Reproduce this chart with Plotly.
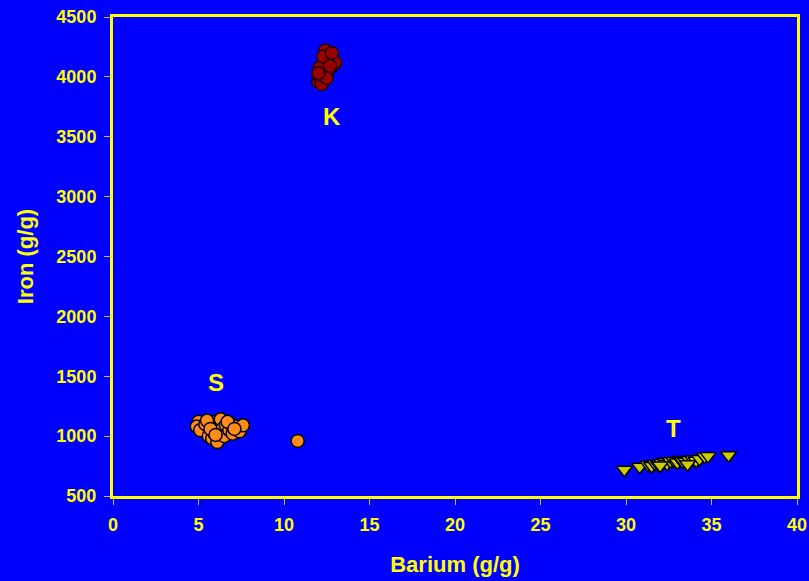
import plotly.graph_objects as go

# Barium vs iron concentrations for three sample groups
k_barium = [12.0, 12.1, 12.2, 12.3, 12.4, 12.5, 12.6, 12.4, 12.7, 12.8, 12.9, 13.0,
            12.6, 12.2, 12.1, 12.5, 12.3, 12.7, 12.0, 12.8]
k_iron = [3960, 4000, 3940, 4050, 4100, 4150, 4200, 4220, 4180, 4130, 4100, 4120,
          4060, 4020, 4080, 3990, 4170, 4090, 4030, 4200]

s_barium = [5.0, 4.9, 5.1, 5.4, 5.6, 5.8, 5.9, 6.0, 6.1, 6.2, 6.3, 6.4, 6.5, 6.6,
            6.8, 6.9, 7.0, 7.2, 7.4, 7.6, 5.5, 5.7, 6.7, 7.1, 6.0, 10.8]
s_iron = [1120, 1080, 1050, 1100, 1000, 980, 1030, 1120, 950, 1070, 1140, 1060,
          1000, 1090, 1050, 1100, 1020, 1080, 1040, 1090, 1130, 1060, 1120, 1060,
          1010, 960]

t_barium = [29.9, 30.8, 31.3, 31.5, 31.7, 31.9, 32.1, 32.3, 32.4, 32.6, 32.8, 33.0,
            33.2, 33.3, 33.5, 33.7, 33.9, 34.1, 34.3, 34.6, 34.8, 36.0, 32.0, 33.6]
t_iron = [720, 745, 760, 750, 770, 760, 775, 785, 770, 790, 795, 780, 800, 790,
          785, 800, 805, 795, 810, 830, 835, 840, 755, 765]

group_labels = ["K", "S", "T"]
label_x = [12.8, 6.0, 32.8]
label_y = [3665, 1444, 1060]

x_ticks = [0, 5, 10, 15, 20, 25, 30, 35, 40]
y_ticks = [500, 1000, 1500, 2000, 2500, 3000, 3500, 4000, 4500]

yellow = "#FFFF00"
font_family = "Liberation Sans, Arial, sans-serif"

fig = go.Figure()
fig.add_trace(go.Scatter(
    x=k_barium, y=k_iron, mode="markers", name="K",
    marker=dict(symbol="circle", size=13, color="#990000",
                line=dict(color="#220000", width=1.5))))
fig.add_trace(go.Scatter(
    x=s_barium, y=s_iron, mode="markers", name="S",
    marker=dict(symbol="circle", size=13, color="#FF8C1A",
                line=dict(color="#000000", width=1.5))))
fig.add_trace(go.Scatter(
    x=t_barium, y=t_iron, mode="markers", name="T",
    marker=dict(symbol="triangle-down", size=14, color="#CCCC00",
                line=dict(color="#000000", width=1.5))))

for name, lx, ly in zip(group_labels, label_x, label_y):
    fig.add_annotation(x=lx, y=ly, text="<b>%s</b>" % name, showarrow=False,
                       font=dict(family=font_family, size=24, color=yellow))

axis_common = dict(
    showgrid=False, zeroline=False, showline=True, linecolor=yellow, linewidth=3,
    mirror=True, ticks="outside", ticklen=6, tickwidth=1, tickcolor="#BFBF60",
    automargin=False,
    tickfont=dict(family=font_family, size=18, color=yellow, weight="bold"),
)

fig.update_layout(
    width=809, height=581,
    paper_bgcolor="#0000FF", plot_bgcolor="#0000FF",
    margin=dict(l=113, r=12, t=17, b=85),
    showlegend=False,
    xaxis=dict(range=[0, 40], tickvals=x_ticks, ticklabelstandoff=4,
               title=dict(text="Barium (g/g)", standoff=24,
                          font=dict(family=font_family, size=22, color=yellow,
                                    weight="bold")),
               **axis_common),
    yaxis=dict(range=[500, 4500], tickvals=y_ticks, ticklabelstandoff=4,
               title=dict(text="Iron (g/g)", standoff=17,
                          font=dict(family=font_family, size=22, color=yellow,
                                    weight="bold")),
               **axis_common),
)

fig.write_html("out.html")
